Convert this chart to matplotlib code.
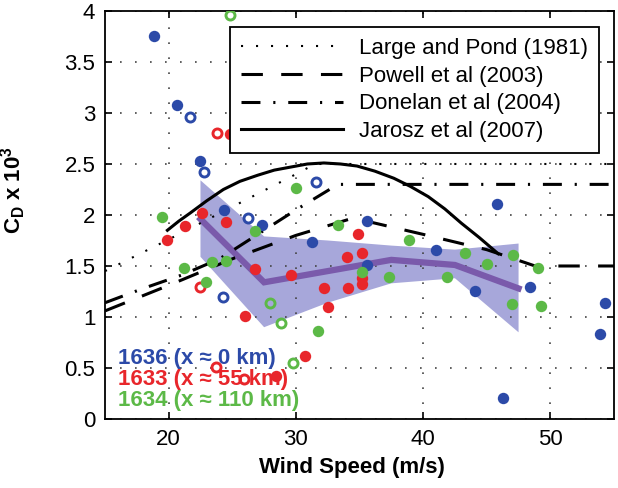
import matplotlib
matplotlib.use('Agg')
import matplotlib.pyplot as plt

plt.rcParams['font.family'] = ['Liberation Sans', 'DejaVu Sans']
plt.rcParams['mathtext.fontset'] = 'custom'
plt.rcParams['mathtext.rm'] = 'Liberation Sans:bold'
plt.rcParams['mathtext.it'] = 'Liberation Sans:bold'
plt.rcParams['mathtext.bf'] = 'Liberation Sans:bold'
plt.rcParams['mathtext.default'] = 'rm'

# station 1636 (x ~ 0 km)
blue_x = [18.86, 20.67, 22.48, 24.37, 27.36, 31.3, 35.6, 35.6, 41.0, 45.8, 44.05, 48.4, 54.3, 53.9, 46.3]
blue_y = [3.75, 3.08, 2.53, 2.05, 1.90, 1.74, 1.94, 1.51, 1.66, 2.11, 1.25, 1.29, 1.14, 0.83, 0.21]
blue_ox = [21.7, 22.8, 26.2, 24.3, 31.6]
blue_oy = [2.96, 2.42, 1.97, 1.20, 2.32]

# station 1633 (x ~ 55 km)
red_x = [24.8, 22.6, 21.3, 19.9, 24.5, 26.8, 26.0, 29.6, 34.9, 34.0, 35.2, 32.2, 34.1, 35.2, 35.2, 32.5, 30.75, 28.4]
red_y = [2.79, 2.02, 1.89, 1.75, 1.93, 1.47, 1.01, 1.41, 1.81, 1.59, 1.63, 1.28, 1.28, 1.38, 1.32, 1.10, 0.62, 0.42]
red_ox = [23.8, 22.5, 23.7, 25.9]
red_oy = [2.80, 1.29, 0.51, 0.39]

# station 1634 (x ~ 110 km)
green_x = [19.5, 21.2, 22.9, 23.4, 24.5, 26.8, 30.0, 33.3, 35.2, 38.9, 37.3, 41.9, 43.3, 45.0, 47.1, 49.0, 47.0, 49.3, 31.7]
green_y = [1.98, 1.48, 1.34, 1.54, 1.55, 1.84, 2.26, 1.90, 1.44, 1.75, 1.39, 1.39, 1.63, 1.52, 1.61, 1.48, 1.13, 1.11, 0.86]
green_ox = [24.8, 28.0, 28.8, 29.8]
green_oy = [3.96, 1.14, 0.94, 0.55]

# binned median and spread
bin_x = [22.5, 27.5, 32.5, 37.5, 42.5, 47.5]
bin_med = [1.96, 1.34, 1.45, 1.56, 1.51, 1.28]
bin_hi = [2.34, 1.79, 1.75, 1.70, 1.66, 1.72]
bin_lo = [1.59, 0.90, 1.14, 1.33, 1.38, 0.85]

# drag coefficient parameterisations
lp_x = [15, 20, 25, 30, 31.5, 55]
lp_y = [1.45, 1.76, 2.08, 2.40, 2.50, 2.50]
powell_x = [15, 20, 25, 30, 34.5, 40, 45, 48.8, 55]
powell_y = [1.06, 1.31, 1.57, 1.80, 1.97, 1.81, 1.66, 1.50, 1.50]
donelan_x = [15, 18, 21, 24, 27, 30, 33.3, 55]
donelan_y = [1.14, 1.28, 1.41, 1.57, 1.81, 2.05, 2.30, 2.30]
jarosz_x = [19.9, 20.8, 21.7, 23.0, 24.3, 25.6, 27.0, 28.3, 29.6, 30.9, 32.2, 33.5, 34.8, 36.2, 37.7, 39.0, 40.4, 41.7, 43.0, 44.4, 45.9]
jarosz_y = [1.85, 1.94, 2.02, 2.14, 2.25, 2.33, 2.39, 2.44, 2.47, 2.50, 2.51, 2.50, 2.48, 2.43, 2.36, 2.28, 2.18, 2.06, 1.92, 1.78, 1.62]

blue = '#2c4aa8'
red = '#e8262b'
green = '#5cb947'

fig = plt.figure(figsize=(6.18, 4.88), dpi=100)
ax = fig.add_axes([0.170, 0.1414, 0.8235, 0.8361])

ax.fill(bin_x + bin_x[::-1], bin_hi + bin_lo[::-1], color='#a7a7da', lw=0, zorder=1)
ax.plot(bin_x, bin_med, color='#7a5aab', lw=4.5, zorder=2, solid_joinstyle='miter')

ax.plot(lp_x, lp_y, color='k', lw=1.5, ls=(0, (1, 6.2)), zorder=3, label='Large and Pond (1981)')
ax.plot(powell_x, powell_y, color='k', lw=2.2, ls=(0, (7, 6)), zorder=3, label='Powell et al (2003)')
ax.plot(donelan_x, donelan_y, color='k', lw=2.2, ls=(0, (6.2, 4.2, 0.7, 4.2)), zorder=3, label='Donelan et al (2004)')
ax.plot(jarosz_x, jarosz_y, color='k', lw=2.2, zorder=3, label='Jarosz et al (2007)')

for xs, ys, xo, yo, c in [(blue_x, blue_y, blue_ox, blue_oy, blue),
                          (red_x, red_y, red_ox, red_oy, red),
                          (green_x, green_y, green_ox, green_oy, green)]:
    ax.plot(xs, ys, 'o', color=c, ms=8.2, mec='none', zorder=4)
    ax.plot(xo, yo, 'o', mfc='none', mec=c, ms=6.5, mew=2.1, zorder=4)

ax.set_xlim(15, 55)
ax.set_ylim(0, 4)
ax.set_xticks([20, 30, 40, 50])
ax.set_yticks([0, 0.5, 1, 1.5, 2, 2.5, 3, 3.5, 4])
ax.set_yticklabels(['0', '0.5', '1', '1.5', '2', '2.5', '3', '3.5', '4'])
ax.tick_params(direction='in', length=5, width=1.2, labelsize=16, top=True, right=True, pad=7)
ax.grid(True, color='#444444', lw=1.2, ls=(0, (1, 8)))
for s in ax.spines.values():
    s.set_linewidth(1.3)

ax.set_xlabel('Wind Speed (m/s)', fontsize=16, fontweight='bold')
ax.xaxis.set_label_coords(0.485, -0.093)
ax.set_ylabel(r'C$_D$ x 10$^3$', fontsize=16, fontweight='bold')
ax.yaxis.set_label_coords(-0.151, 0.56)

ax.text(16.0, 0.59, '1636 (x \u2248 0 km)', color=blue, fontsize=16, fontweight='bold', va='center', zorder=5)
ax.text(16.0, 0.39, '1633 (x \u2248 55 km)', color=red, fontsize=16, fontweight='bold', va='center', zorder=5)
ax.text(16.0, 0.18, '1634 (x \u2248 110 km)', color=green, fontsize=16, fontweight='bold', va='center', zorder=5)

leg = ax.legend(loc='upper right', bbox_to_anchor=(0.9705, 0.961), fontsize=16,
                handlelength=4.6, handletextpad=0.7, labelspacing=0.3,
                borderpad=0.5, borderaxespad=0, fancybox=False, framealpha=1, edgecolor='k')
leg.get_frame().set_linewidth(1.3)
leg.set_zorder(10)

fig.savefig('out.png', dpi=100)
